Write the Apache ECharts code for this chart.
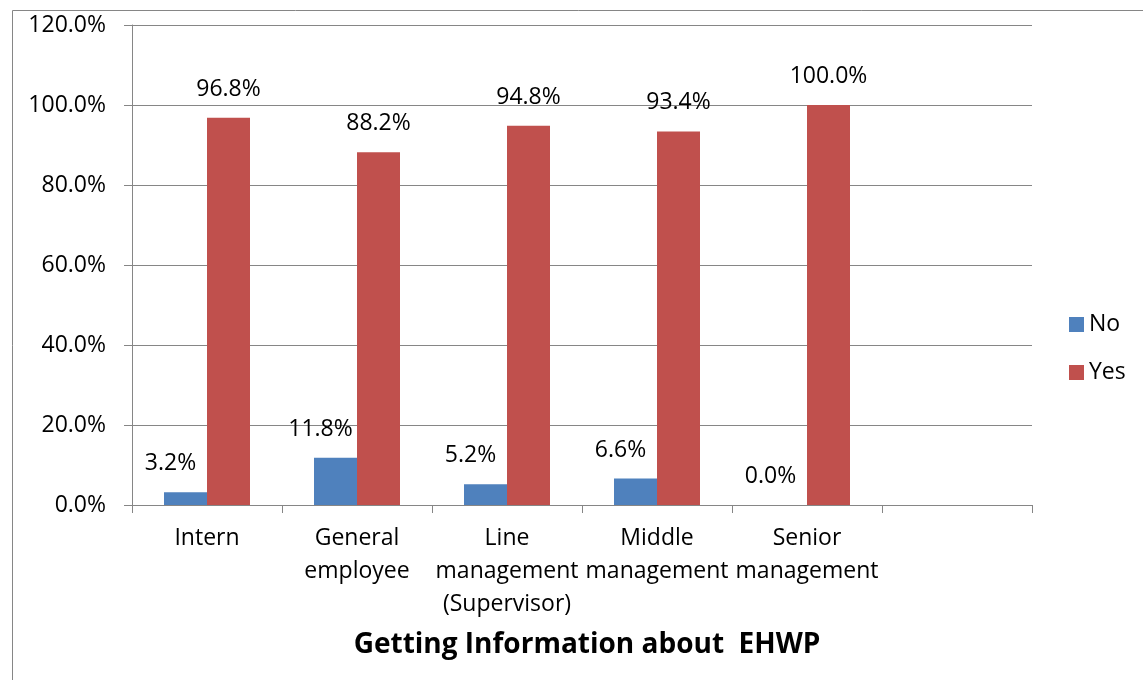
<!DOCTYPE html>
<html><head><meta charset="utf-8">
<script src="https://cdn.jsdelivr.net/npm/echarts@6/dist/echarts.min.js"></script>
<style>html,body{margin:0;padding:0;background:#fff}#c{width:1143px;height:680px}</style>
</head><body><div id="c"></div>
<script>
const categories = ["Intern", "General\nemployee", "Line\nmanagement\n(Supervisor)", "Middle\nmanagement", "Senior\nmanagement", ""];
const noValues = [3.2, 11.8, 5.2, 6.6, 0.0, null];
const yesValues = [96.8, 88.2, 94.8, 93.4, 100.0, null];
const yTicks = [0, 20, 40, 60, 80, 100, 120];
const titleText = "Getting Information about  EHWP";

const FONT = "Open Sans";
const chart = echarts.init(document.getElementById('c'), null, {renderer: 'canvas'});
const labelStyle = {
  show: true, position: 'top', distance: 17,
  fontFamily: FONT, fontSize: 23, color: '#000',
  formatter: p => p.value == null ? '' : p.value.toFixed(1) + '%'
};
chart.setOption({
  animation: false,
  textStyle: {fontFamily: FONT},
  graphic: [{
    type: 'rect', left: 10, top: 8, z: -1,
    shape: {x: 0, y: 0, width: 1200, height: 700},
    style: {fill: 'none', stroke: '#868686', lineWidth: 1}
  }],
  title: {
    text: titleText, left: 582, top: 626, textAlign: 'center',
    textStyle: {fontFamily: FONT, fontSize: 28, fontWeight: 'bold', color: '#000'}
  },
  legend: {
    orient: 'vertical', left: 1064, top: 308, itemGap: 25,
    itemWidth: 15, itemHeight: 15, icon: 'rect',
    textStyle: {fontFamily: FONT, fontSize: 23, color: '#000'},
    data: ['No', 'Yes']
  },
  grid: {left: 132, right: 111, top: 25, bottom: 175, containLabel: false},
  xAxis: {
    type: 'category', data: categories,
    axisLine: {show: true, lineStyle: {color: '#868686'}},
    axisTick: {show: true, alignWithLabel: false, length: 8, lineStyle: {color: '#868686'}},
    axisLabel: {interval: 0, margin: 17, fontFamily: FONT, fontSize: 23, color: '#000', lineHeight: 33},
    splitLine: {show: false}
  },
  yAxis: {
    type: 'value', min: 0, max: 120, interval: 20,
    axisLine: {show: true, lineStyle: {color: '#868686'}},
    axisTick: {show: true, length: 8, lineStyle: {color: '#868686'}},
    axisLabel: {margin: 26, fontFamily: FONT, fontSize: 23, color: '#000',
      formatter: v => yTicks.includes(v) ? v.toFixed(1) + '%' : ''},
    splitLine: {show: true, lineStyle: {color: '#868686', width: 1}}
  },
  series: [
    {name: 'No', type: 'bar', data: noValues, barWidth: 43, barGap: '0%',
     itemStyle: {color: '#4F81BD'}, label: Object.assign({}, labelStyle, {offset: [-15, 0]})},
    {name: 'Yes', type: 'bar', data: yesValues, barWidth: 43,
     itemStyle: {color: '#C0504D'}, label: labelStyle}
  ]
});
</script></body></html>
